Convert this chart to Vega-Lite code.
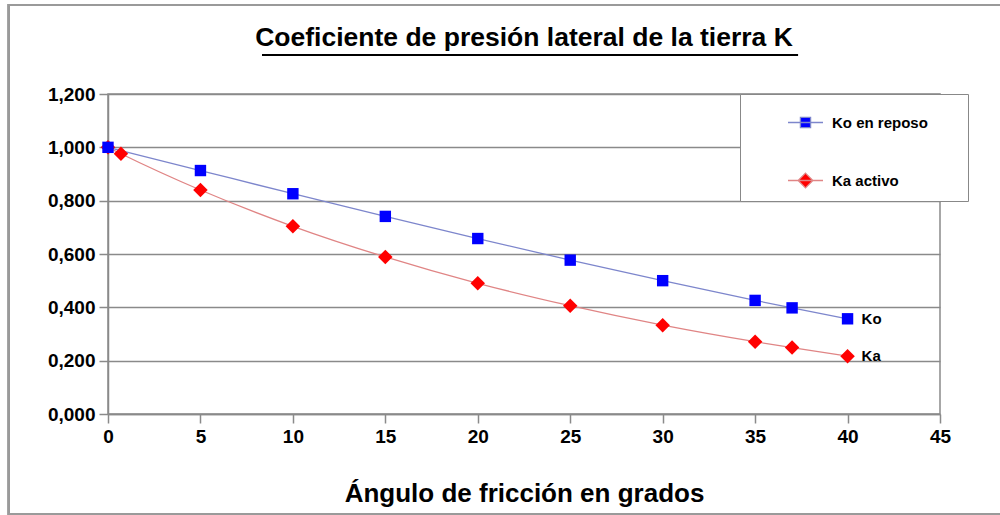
{
  "$schema": "https://vega.github.io/schema/vega-lite/v6.json",
  "width": 832,
  "height": 320,
  "autosize": {"type": "none"},
  "padding": {"left": 108, "top": 94, "right": 60, "bottom": 101},
  "background": "white",
  "title": {
    "text": "Coeficiente de presión lateral de la tierra K",
    "font": "Liberation Sans, Arial, sans-serif",
    "fontSize": 26.5,
    "fontWeight": "bold",
    "color": "#000000",
    "anchor": "middle",
    "baseline": "alphabetic",
    "offset": -69
  },
  "data": {
    "values": [
      {"series": "Ka activo", "short": "Ka", "angle": 0, "k": 1.0},
      {"series": "Ka activo", "short": "Ka", "angle": 0.7, "k": 0.976},
      {"series": "Ka activo", "short": "Ka", "angle": 5, "k": 0.84},
      {"series": "Ka activo", "short": "Ka", "angle": 10, "k": 0.704},
      {"series": "Ka activo", "short": "Ka", "angle": 15, "k": 0.589},
      {"series": "Ka activo", "short": "Ka", "angle": 20, "k": 0.49},
      {"series": "Ka activo", "short": "Ka", "angle": 25, "k": 0.406},
      {"series": "Ka activo", "short": "Ka", "angle": 30, "k": 0.333},
      {"series": "Ka activo", "short": "Ka", "angle": 35, "k": 0.271},
      {"series": "Ka activo", "short": "Ka", "angle": 37, "k": 0.249},
      {"series": "Ka activo", "short": "Ka", "angle": 40, "k": 0.217},
      {"series": "Ko en reposo", "short": "Ko", "angle": 0, "k": 1.0},
      {"series": "Ko en reposo", "short": "Ko", "angle": 5, "k": 0.913},
      {"series": "Ko en reposo", "short": "Ko", "angle": 10, "k": 0.826},
      {"series": "Ko en reposo", "short": "Ko", "angle": 15, "k": 0.741},
      {"series": "Ko en reposo", "short": "Ko", "angle": 20, "k": 0.658},
      {"series": "Ko en reposo", "short": "Ko", "angle": 25, "k": 0.577},
      {"series": "Ko en reposo", "short": "Ko", "angle": 30, "k": 0.5},
      {"series": "Ko en reposo", "short": "Ko", "angle": 35, "k": 0.426},
      {"series": "Ko en reposo", "short": "Ko", "angle": 37, "k": 0.398},
      {"series": "Ko en reposo", "short": "Ko", "angle": 40, "k": 0.357}
    ]
  },
  "encoding": {
    "x": {
      "field": "angle",
      "type": "quantitative",
      "scale": {"domain": [0, 45], "nice": false, "zero": false},
      "axis": {
        "title": "Ángulo de fricción en grados",
        "values": [0, 5, 10, 15, 20, 25, 30, 35, 40, 45],
        "grid": false,
        "labelFlush": false,
        "titleFontSize": 26,
        "titlePadding": 34
      }
    },
    "y": {
      "field": "k",
      "type": "quantitative",
      "scale": {"domain": [0, 1.2], "nice": false},
      "axis": {
        "title": null,
        "values": [0, 0.2, 0.4, 0.6, 0.8, 1.0, 1.2],
        "labelExpr": "replace(format(datum.value, '.3f'), '.', ',')",
        "labelFlush": false,
        "grid": true
      }
    }
  },
  "layer": [
    {
      "mark": {"type": "rect", "fill": "transparent", "stroke": "#9a9a9a", "strokeWidth": 2},
      "encoding": {
        "x": {"datum": -5.36},
        "x2": {"datum": 52},
        "y": {"datum": 1.534},
        "y2": {"datum": -0.375}
      }
    },
    {
      "mark": {"type": "rule", "stroke": "#000000", "strokeWidth": 2},
      "encoding": {
        "x": {"datum": 8.33},
        "x2": {"datum": 37.32},
        "y": {"datum": 1.346}
      }
    },
    {
      "mark": {"type": "line", "interpolate": "monotone", "strokeWidth": 1.3},
      "encoding": {
        "stroke": {
          "field": "series",
          "type": "nominal",
          "scale": {"domain": ["Ko en reposo", "Ka activo"], "range": ["#7d86cc", "#e08585"]},
          "legend": {
            "orient": "none",
            "legendX": 632,
            "legendY": 0,
            "direction": "vertical",
            "title": null,
            "padding": 10,
            "strokeColor": "#888888",
            "fillColor": "#ffffff",
            "symbolSize": 1225,
            "symbolOffset": 37,
            "symbolStrokeWidth": 1.3,
            "labelOffset": 8,
            "rowPadding": 31,
            "labelFont": "Liberation Sans",
            "labelFontSize": 15,
            "labelFontWeight": "bold",
            "labelColor": "#000000",
            "labelExpr": "datum.label + '       \u200b'",
            "encode": {
              "symbols": {
                "update": {
                  "shape": {"signal": "datum.value === 'Ko en reposo' ? 'M-1,0H1M-0.29,-0.29H0.29V0.29H-0.29Z' : 'M-1,0H1M0,-0.42L0.42,0L0,0.42L-0.42,0Z'"},
                  "fill": {"signal": "datum.value === 'Ko en reposo' ? '#0000ff' : '#ff0000'"},
                  "opacity": {"value": 1}
                }
              }
            }
          }
        },
        "detail": {"field": "series"}
      }
    },
    {
      "mark": {"type": "point", "filled": true, "opacity": 1},
      "encoding": {
        "fill": {
          "field": "short",
          "type": "nominal",
          "scale": {"domain": ["Ko", "Ka"], "range": ["#0000ff", "#ff0000"]},
          "legend": null
        },
        "shape": {
          "field": "short",
          "type": "nominal",
          "scale": {"domain": ["Ko", "Ka"], "range": ["square", "diamond"]},
          "legend": null
        },
        "size": {
          "field": "short",
          "type": "nominal",
          "scale": {"domain": ["Ko", "Ka"], "range": [130, 210]},
          "legend": null
        }
      }
    },
    {
      "transform": [{"filter": "datum.angle === 40"}],
      "mark": {
        "type": "text",
        "align": "left",
        "baseline": "middle",
        "dx": 14,
        "font": "Liberation Sans",
        "fontSize": 15,
        "fontWeight": "bold",
        "color": "#000000"
      },
      "encoding": {"text": {"field": "short"}}
    }
  ],
  "config": {
    "view": {"stroke": "#8a8a8a", "strokeWidth": 1.5},
    "axis": {
      "labelFont": "Liberation Sans, Arial, sans-serif",
      "labelFontSize": 19,
      "labelFontWeight": "bold",
      "labelColor": "#000000",
      "titleFont": "Liberation Sans, Arial, sans-serif",
      "titleFontWeight": "bold",
      "titleColor": "#000000",
      "domainColor": "#8a8a8a",
      "domainWidth": 1.5,
      "tickColor": "#8a8a8a",
      "tickWidth": 1.5,
      "tickSize": 9,
      "gridColor": "#8a8a8a",
      "gridWidth": 1.5,
      "labelPadding": 4
    }
  }
}
